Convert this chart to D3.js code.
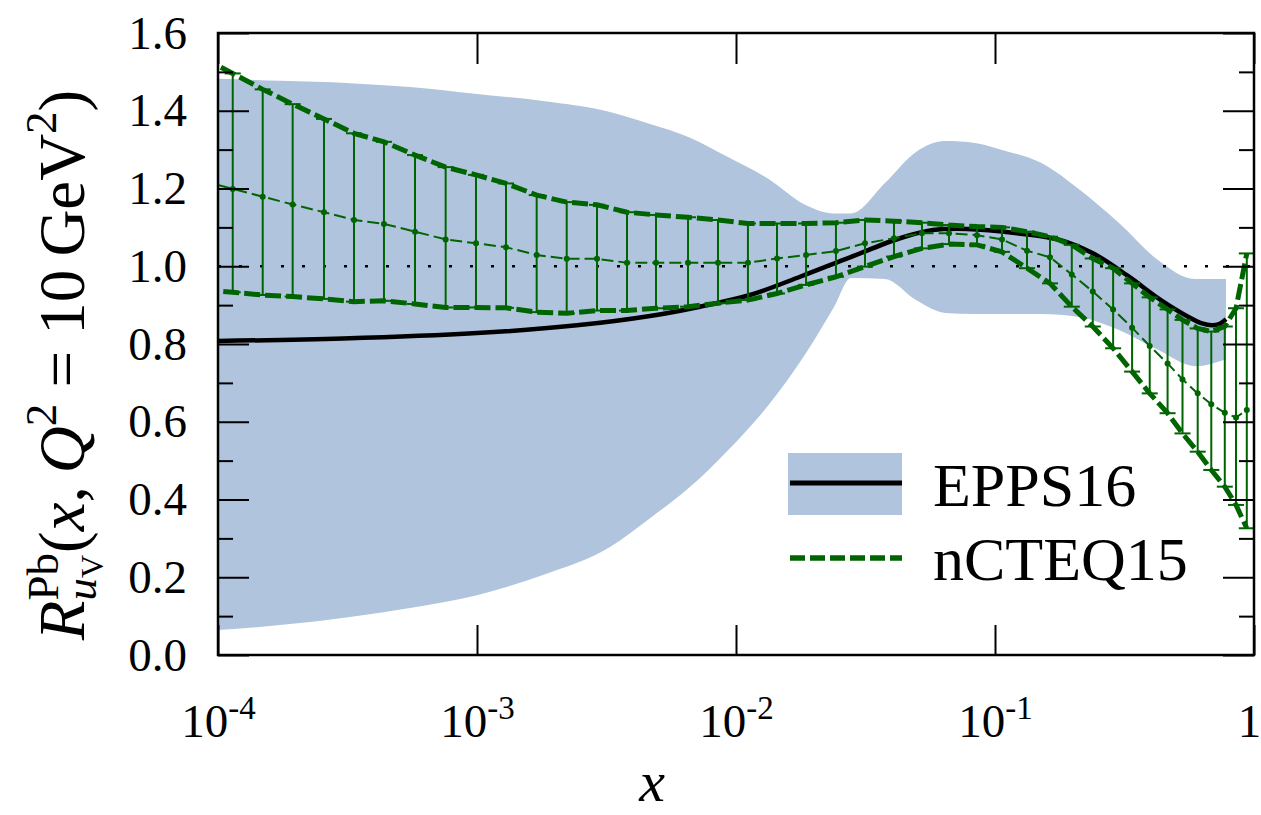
<!DOCTYPE html>
<html><head><meta charset="utf-8">
<script src="https://cdn.jsdelivr.net/npm/d3@7"></script>
<style>body{margin:0;background:#fff}svg{display:block}</style>
</head><body>
<svg id="chart" width="1261" height="815"></svg>
<script>
// ---------------- DATA ----------------
// EPPS16 central curve
const eppsX = [1e-4, 3.04e-4, 1e-3, 2.43e-3, 4.656e-3, 7.261e-3, 1.132e-2, 1.767e-2, 2.755e-2, 4.297e-2, 5.762e-2, 7.794e-2, 0.1216, 0.178, 0.241, 0.326, 0.437, 0.561, 0.630, 0.688, 0.733, 0.780];
const eppsCentral = [0.808, 0.814, 0.828, 0.848, 0.872, 0.896, 0.926, 0.973, 1.023, 1.072, 1.093, 1.096, 1.085, 1.068, 1.032, 0.975, 0.913, 0.869, 0.853, 0.848, 0.851, 0.864];
// EPPS16 uncertainty band (common x grid)
const bandX = [1e-4, 1.736e-4, 3.233e-4, 5.512e-4, 1e-3, 1.798e-3, 3.263e-3, 4.656e-3, 6.583e-3, 9.314e-3, 1.317e-2, 1.864e-2, 2.390e-2, 2.780e-2, 3.760e-2, 4.955e-2, 6.410e-2, 8.372e-2, 0.1064, 0.1505, 0.2129, 0.3011, 0.4260, 0.5918, 0.7795];
const bandUpper = [1.482, 1.477, 1.471, 1.461, 1.443, 1.425, 1.397, 1.366, 1.332, 1.281, 1.227, 1.157, 1.136, 1.136, 1.214, 1.294, 1.322, 1.317, 1.299, 1.266, 1.196, 1.111, 1.016, 0.967, 0.967];
const bandLower = [0.064, 0.077, 0.098, 0.121, 0.154, 0.206, 0.278, 0.352, 0.430, 0.527, 0.638, 0.777, 0.895, 0.970, 0.967, 0.913, 0.880, 0.877, 0.877, 0.877, 0.869, 0.836, 0.785, 0.743, 0.761];
// nCTEQ15 points
const ncteqX = [8.70e-5, 1.140e-4, 1.488e-4, 1.942e-4, 2.566e-4, 3.350e-4, 4.373e-4, 5.763e-4, 7.568e-4, 9.911e-4, 1.294e-3, 1.700e-3, 2.220e-3, 2.906e-3, 3.794e-3, 4.911e-3, 6.528e-3, 8.520e-3, 1.112e-2, 1.440e-2, 1.864e-2, 2.432e-2, 3.148e-2, 4.074e-2, 5.224e-2, 6.644e-2, 8.522e-2, 0.1064, 0.1329, 0.1631, 0.1979, 0.2385, 0.2858, 0.3383, 0.3957, 0.4638, 0.5296, 0.6062, 0.6840, 0.7713, 0.8522, 0.9380];
const ncteqCentral = [1.219, 1.199, 1.179, 1.159, 1.139, 1.119, 1.109, 1.089, 1.069, 1.059, 1.049, 1.029, 1.019, 1.019, 1.009, 1.009, 1.009, 1.009, 1.009, 1.020, 1.029, 1.039, 1.059, 1.072, 1.085, 1.085, 1.080, 1.069, 1.040, 1.023, 0.979, 0.935, 0.889, 0.842, 0.795, 0.750, 0.709, 0.673, 0.645, 0.623, 0.611, 0.630];
const ncteqUpper = [1.537, 1.496, 1.455, 1.417, 1.379, 1.342, 1.320, 1.286, 1.255, 1.235, 1.213, 1.183, 1.165, 1.158, 1.139, 1.132, 1.126, 1.119, 1.110, 1.110, 1.110, 1.112, 1.119, 1.116, 1.112, 1.106, 1.102, 1.100, 1.089, 1.076, 1.055, 1.020, 0.995, 0.956, 0.920, 0.889, 0.862, 0.840, 0.832, 0.845, 0.892, 1.033];
const ncteqLower = [0.940, 0.933, 0.926, 0.922, 0.916, 0.909, 0.911, 0.903, 0.894, 0.894, 0.893, 0.882, 0.879, 0.886, 0.886, 0.892, 0.896, 0.905, 0.913, 0.930, 0.952, 0.973, 0.999, 1.025, 1.046, 1.057, 1.055, 1.037, 0.995, 0.956, 0.896, 0.845, 0.789, 0.729, 0.673, 0.622, 0.570, 0.523, 0.476, 0.433, 0.386, 0.326];
// ticks
const yMajorTicks = [0, 0.2, 0.4, 0.6, 0.8, 1.0, 1.2, 1.4, 1.6];
const yMinorTicks = [0.1, 0.3, 0.5, 0.7, 0.9, 1.1, 1.3, 1.5];
const xTicks = [1e-4, 1e-3, 1e-2, 1e-1, 1];
const xTickBase = ["10", "10", "10", "10", "1"];
const xTickExp = ["-4", "-3", "-2", "-1", ""];
const legendLabels = ["EPPS16", "nCTEQ15"];

// ---------------- DRAW ----------------
const L = 218, R = 1254, T = 33, B = 655;
const FONT = "'Liberation Serif','DejaVu Serif','Times New Roman',serif";
const GREEN = "#006400", BAND = "#b0c4de";
const svg = d3.select("#chart");
const x = d3.scaleLog().domain([1e-4, 1]).range([L, R]);
const y = d3.scaleLinear().domain([0, 1.6]).range([B, T]);

svg.append("defs").append("clipPath").attr("id", "clip")
  .append("rect").attr("x", L).attr("y", T).attr("width", R - L).attr("height", B - T);
const plot = svg.append("g").attr("clip-path", "url(#clip)");

// band
const bandData = bandX.map((v, i) => ({x: v, u: bandUpper[i], l: bandLower[i]}));
plot.append("path")
  .attr("d", d3.area().x(d => x(d.x)).y0(d => y(d.l)).y1(d => y(d.u)).curve(d3.curveMonotoneX)(bandData))
  .attr("fill", BAND).attr("stroke", "none");

// dotted line at 1
plot.append("line").attr("x1", L).attr("x2", R).attr("y1", y(1)).attr("y2", y(1))
  .attr("stroke", "#000").attr("stroke-width", 2.5).attr("stroke-dasharray", "3,18");

// EPPS central
plot.append("path")
  .attr("d", d3.line().x(d => x(d[0])).y(d => y(d[1])).curve(d3.curveCatmullRom.alpha(0.5))(eppsX.map((v, i) => [v, eppsCentral[i]])))
  .attr("fill", "none").attr("stroke", "#000").attr("stroke-width", 4.5);

// nCTEQ error bars
const nd = ncteqX.map((v, i) => ({x: v, c: ncteqCentral[i], u: ncteqUpper[i], l: ncteqLower[i]}));
const eb = plot.append("g").attr("stroke", GREEN).attr("stroke-width", 2);
eb.selectAll("line.v").data(nd).join("line").attr("class", "v")
  .attr("x1", d => x(d.x)).attr("x2", d => x(d.x)).attr("y1", d => y(d.u)).attr("y2", d => y(d.l));
eb.selectAll("line.cu").data(nd).join("line").attr("class", "cu")
  .attr("x1", d => x(d.x) - 8).attr("x2", d => x(d.x) + 8).attr("y1", d => y(d.u)).attr("y2", d => y(d.u));
eb.selectAll("line.cl").data(nd).join("line").attr("class", "cl")
  .attr("x1", d => x(d.x) - 8).attr("x2", d => x(d.x) + 8).attr("y1", d => y(d.l)).attr("y2", d => y(d.l));

const lineGen = key => d3.line().x(d => x(d.x)).y(d => y(d[key]))(nd);
plot.append("path").attr("d", lineGen("u")).attr("fill", "none").attr("stroke", GREEN)
  .attr("stroke-width", 5).attr("stroke-dasharray", "16,5");
plot.append("path").attr("d", lineGen("l")).attr("fill", "none").attr("stroke", GREEN)
  .attr("stroke-width", 5).attr("stroke-dasharray", "16,5");
plot.append("path").attr("d", lineGen("c")).attr("fill", "none").attr("stroke", GREEN)
  .attr("stroke-width", 2).attr("stroke-dasharray", "12,5");
plot.selectAll("circle.dot").data(nd).join("circle").attr("class", "dot")
  .attr("cx", d => x(d.x)).attr("cy", d => y(d.c)).attr("r", 3).attr("fill", GREEN);

// axes / ticks
function styleAxis(g) {
  g.select(".domain").remove();
  g.selectAll(".tick line").attr("stroke", "#000").attr("stroke-width", 2);
  g.selectAll(".tick text").attr("font-family", FONT).attr("font-size", 47).attr("fill", "#000");
}
svg.append("g").attr("transform", `translate(${L},0)`)
  .call(d3.axisLeft(y).tickValues(yMajorTicks).tickSize(-31).tickPadding(31).tickFormat(d3.format(".1f")))
  .call(styleAxis);
svg.append("g").attr("transform", `translate(${L},0)`)
  .call(d3.axisLeft(y).tickValues(yMinorTicks).tickSize(-15).tickFormat(""))
  .call(styleAxis);
svg.append("g").attr("transform", `translate(${R},0)`)
  .call(d3.axisRight(y).tickValues(yMajorTicks).tickSize(-31).tickFormat(""))
  .call(styleAxis);
svg.append("g").attr("transform", `translate(${R},0)`)
  .call(d3.axisRight(y).tickValues(yMinorTicks).tickSize(-15).tickFormat(""))
  .call(styleAxis);
svg.append("g").attr("transform", `translate(0,${T})`)
  .call(d3.axisTop(x).tickValues(xTicks).tickSize(-31).tickFormat(""))
  .call(styleAxis);
const xb = svg.append("g").attr("transform", `translate(0,${B})`)
  .call(d3.axisBottom(x).tickValues(xTicks).tickSize(-30).tickFormat(""))
  .call(styleAxis);
xb.selectAll(".tick").each(function(d, i) {
  const t = d3.select(this).append("text").attr("y", 82)
    .attr("x", xTickExp[i] ? 0 : -5)
    .attr("text-anchor", "middle")
    .attr("font-family", FONT).attr("font-size", 47).attr("fill", "#000");
  t.append("tspan").text(xTickBase[i]);
  if (xTickExp[i]) t.append("tspan").attr("font-size", 33).attr("dy", -18).text(xTickExp[i]);
});

// frame
svg.append("rect").attr("x", L).attr("y", T).attr("width", R - L).attr("height", B - T)
  .attr("fill", "none").attr("stroke", "#000").attr("stroke-width", 2.5);

// x label
svg.append("text").attr("x", 652).attr("y", 801).attr("text-anchor", "middle")
  .attr("font-family", FONT).attr("font-style", "italic").attr("font-size", 58).text("x");

// y label (rotated, built from pieces)
const yl = svg.append("g").attr("transform", "translate(84,365) rotate(-90)");
const boxes = [
  [[{t: "R", fs: 65, it: 1, dy: 0}]],
  [[{t: "Pb", fs: 45, dy: -26}], [{t: "u", fs: 45, it: 1, dy: 12}, {t: "V", fs: 32, dy: 19}]],
  [[{t: "(", fs: 65, dy: 0}]],
  [[{t: "x", fs: 65, it: 1, dy: 0}]],
  [[{t: ",\u2009", fs: 65, dy: 0}]],
  [[{t: "Q", fs: 65, it: 1, dy: 0}]],
  [[{t: "2", fs: 45, dy: -28}]],
  [[{t: " = 10\u2009GeV", fs: 65, dy: 0}]],
  [[{t: "2", fs: 45, dy: -28}]],
  [[{t: ")", fs: 65, dy: 0}]]
];
let cur = 0;
const labelG = yl.append("g");
boxes.forEach(box => {
  let maxW = 0;
  box.forEach(seq => {
    let sx = cur;
    seq.forEach(p => {
      const te = labelG.append("text").attr("x", sx).attr("y", p.dy)
        .attr("font-family", FONT).attr("font-size", p.fs)
        .attr("font-style", p.it ? "italic" : "normal").attr("fill", "#000")
        .style("white-space", "pre").text(p.t);
      sx += te.node().getComputedTextLength();
    });
    maxW = Math.max(maxW, sx - cur);
  });
  cur += maxW;
});
labelG.attr("transform", `translate(${-cur / 2},0)`);

// legend
svg.append("rect").attr("x", 788).attr("y", 453).attr("width", 114).attr("height", 62).attr("fill", BAND);
svg.append("line").attr("x1", 790).attr("x2", 902).attr("y1", 483).attr("y2", 483)
  .attr("stroke", "#000").attr("stroke-width", 5);
svg.append("line").attr("x1", 790).attr("x2", 902).attr("y1", 558).attr("y2", 558)
  .attr("stroke", GREEN).attr("stroke-width", 5.5).attr("stroke-dasharray", "15,5");
svg.selectAll("text.leg").data(legendLabels).join("text").attr("class", "leg")
  .attr("x", 933).attr("y", (d, i) => 506 + i * 74)
  .attr("font-family", FONT).attr("font-size", 62).attr("fill", "#000").text(d => d);
</script>
</body></html>
